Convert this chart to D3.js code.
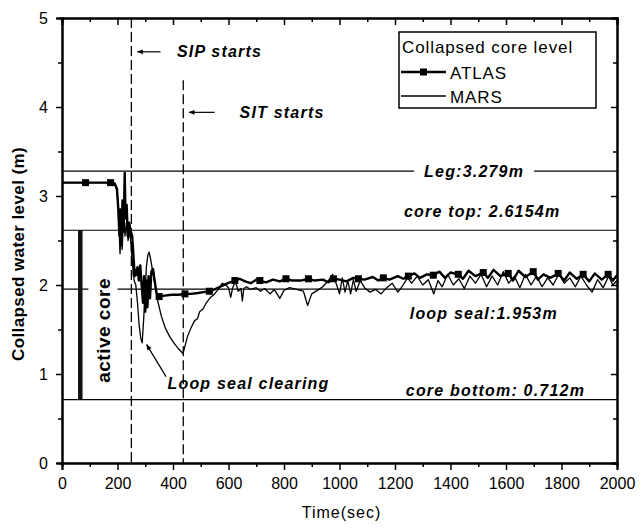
<!DOCTYPE html>
<html>
<head>
<meta charset="utf-8">
<script src="https://cdn.jsdelivr.net/npm/d3@7"></script>
<style>
  body { margin: 0; background: #fff; }
  text { font-family: "Liberation Sans", Arial, sans-serif; }
</style>
</head>
<body>
<svg id="chart" width="643" height="529"></svg>
<script>
// collapsed core level, ATLAS test vs MARS calc
const atlas = [[0,3.15],[40,3.15],[85,3.15],[130,3.15],[175,3.15],[190,3.14],[198,3.08],[203,2.85],[207,2.55],[210,2.85],[214,2.45],[218,2.95],[222,2.6],[226,3.26],[229,2.75],[233,2.9],[237,2.55],[242,2.7],[248,2.6],[253,2.55],[258,2.3],[262,2.1],[267,2.14],[272,2.2],[277,2.05],[282,2.22],[287,2.0],[292,1.8],[296,2.1],[300,1.7],[304,2.05],[308,1.75],[312,2.1],[317,1.85],[322,2.15],[328,2.18],[334,2.05],[340,1.92],[345,1.88],[350,1.87],[370,1.88],[395,1.89],[420,1.89],[443,1.9],[465,1.9],[490,1.91],[510,1.92],[531,1.93],[550,1.95],[570,1.98],[590,2.01],[605,2.03],[623,2.05],[640,2.07],[660,2.04],[680,2.02],[700,2.06],[713,2.05],[735,2.03],[760,2.06],[785,2.04],[807,2.07],[830,2.05],[860,2.05],[888,2.07],[910,2.05],[940,2.06],[960,2.03],[978,2.07],[1000,2.06],[1025,2.04],[1050,2.08],[1068,2.07],[1090,2.06],[1120,2.09],[1140,2.05],[1158,2.08],[1180,2.06],[1210,2.1],[1230,2.07],[1248,2.1],[1270,2.13],[1290,2.08],[1315,2.12],[1338,2.11],[1360,2.15],[1380,2.08],[1400,2.14],[1428,2.12],[1445,2.07],[1465,2.16],[1490,2.1],[1518,2.14],[1535,2.08],[1555,2.17],[1580,2.1],[1608,2.13],[1625,2.05],[1645,2.16],[1670,2.09],[1698,2.15],[1715,2.06],[1735,2.12],[1760,2.08],[1788,2.13],[1810,2.05],[1830,2.14],[1855,2.07],[1878,2.12],[1900,2.04],[1920,2.13],[1945,2.06],[1968,2.12],[1985,2.05],[2000,2.11]];
const atlasMarkTimes = [85,175,267,350,443,531,623,713,807,888,978,1068,1158,1248,1338,1428,1518,1608,1698,1788,1878,1968];
const mars = [[0,3.15],[100,3.15],[185,3.15],[195,3.1],[200,3.0],[205,2.7],[209,2.35],[213,2.6],[217,2.4],[222,2.8],[227,2.55],[232,2.7],[238,2.5],[245,2.6],[250,2.4],[255,2.2],[260,2.05],[266,2.0],[272,1.8],[278,1.55],[284,1.4],[289,1.35],[294,1.6],[299,1.9],[304,2.2],[309,2.33],[314,2.37],[320,2.28],[327,2.15],[335,2.0],[345,1.82],[358,1.65],[372,1.52],[388,1.42],[403,1.35],[418,1.29],[430,1.25],[436,1.23],[442,1.3],[452,1.42],[465,1.52],[478,1.6],[488,1.62],[496,1.7],[508,1.73],[520,1.8],[535,1.86],[550,1.9],[565,1.96],[578,2.02],[590,2.0],[600,1.97],[608,1.86],[615,1.97],[625,2.04],[635,1.93],[645,1.96],[650,1.82],[655,1.96],[665,1.98],[680,1.95],[700,1.97],[715,1.93],[730,1.96],[750,1.9],[765,1.95],[785,1.85],[800,1.94],[820,1.97],[845,1.95],[870,1.93],[885,1.77],[900,1.9],[920,1.94],[940,1.98],[960,2.05],[975,2.12],[990,2.0],[1000,1.9],[1010,2.08],[1020,1.92],[1030,2.05],[1040,1.9],[1050,2.06],[1060,1.93],[1075,2.05],[1090,1.97],[1110,1.92],[1130,1.95],[1150,1.9],[1170,1.97],[1190,2.02],[1210,1.92],[1225,1.98],[1245,2.08],[1260,2.02],[1280,2.1],[1300,2.0],[1320,2.06],[1340,1.9],[1355,2.05],[1370,1.98],[1390,2.12],[1410,2.0],[1430,2.07],[1450,1.96],[1470,2.1],[1490,2.02],[1510,2.12],[1530,1.98],[1550,2.1],[1570,2.0],[1590,2.15],[1610,2.02],[1630,2.1],[1650,1.97],[1670,2.12],[1690,2.0],[1710,2.1],[1730,1.98],[1750,2.08],[1770,2.0],[1790,2.12],[1810,2.02],[1830,2.08],[1850,1.98],[1870,2.1],[1890,2.0],[1910,1.92],[1930,2.06],[1950,1.97],[1970,2.1],[1985,2.0],[2000,2.05]];

// reference elevations
const levelNames = ['Leg:3.279m', 'core top: 2.6154m', 'loop seal:1.953m', 'core bottom: 0.712m'];
const levelValues = [3.279, 2.6154, 1.953, 0.712];
const eventNames = ['SIP starts', 'SIT starts'];
const eventTimes = [250, 437];

const xTicks = [0,200,400,600,800,1000,1200,1400,1600,1800,2000];
const yTicks = [0,1,2,3,4,5];

const svg = d3.select('#chart');
const m = { left: 62, right: 617, top: 18, bottom: 463 };
const x = d3.scaleLinear().domain([0, 2000]).range([m.left, m.right]);
const y = d3.scaleLinear().domain([0, 5]).range([m.bottom, m.top]);

svg.append('clipPath').attr('id', 'clip')
  .append('rect').attr('x', m.left).attr('y', m.top)
  .attr('width', m.right - m.left).attr('height', m.bottom - m.top);

// horizontal reference lines
const levels = svg.append('g');
levelValues.forEach(v => {
  levels.append('line')
    .attr('x1', m.left).attr('x2', m.right)
    .attr('y1', y(v)).attr('y2', y(v))
    .attr('stroke', '#000').attr('stroke-width', 1.2);
});

// event dashed lines
svg.append('line').attr('x1', x(eventTimes[0])).attr('x2', x(eventTimes[0]))
  .attr('y1', y(5)).attr('y2', y(0))
  .attr('stroke', '#000').attr('stroke-width', 1.3).attr('stroke-dasharray', '10,4');
svg.append('line').attr('x1', x(eventTimes[1])).attr('x2', x(eventTimes[1]))
  .attr('y1', y(4.3)).attr('y2', y(0))
  .attr('stroke', '#000').attr('stroke-width', 1.3).attr('stroke-dasharray', '10,4');

// active core bar
svg.append('rect')
  .attr('x', x(65) - 2).attr('width', 4.5)
  .attr('y', y(levelValues[1])).attr('height', y(levelValues[3]) - y(levelValues[1]))
  .attr('fill', '#111');

// labels with white backing where the reference line is broken
const boldItalic = sel => sel.attr('font-size', 16).attr('font-weight', 'bold')
  .attr('font-style', 'italic').attr('letter-spacing', 1.2).attr('fill', '#000');

const legLabel = svg.append('text').attr('x', x(1485)).attr('y', y(levelValues[0]) + 6)
  .attr('text-anchor', 'middle').text(levelNames[0]).call(boldItalic);
const bb = legLabel.node().getBBox();
svg.insert('rect', 'text').attr('x', bb.x - 10).attr('y', bb.y).attr('width', bb.width + 20)
  .attr('height', bb.height).attr('fill', '#fff');

svg.append('text').attr('x', x(1514)).attr('y', y(levelValues[1]) - 13)
  .attr('text-anchor', 'middle').text(levelNames[1]).call(boldItalic);
svg.append('text').attr('x', x(1787)).attr('y', y(levelValues[2]) + 30)
  .attr('text-anchor', 'end').text(levelNames[2]).call(boldItalic);
svg.append('text').attr('x', x(1885)).attr('y', y(levelValues[3]) - 4)
  .attr('text-anchor', 'end').text(levelNames[3]).call(boldItalic);

// active core text
svg.append('rect').attr('x', x(95)).attr('y', y(1.953) - 2).attr('width', x(200) - x(95)).attr('height', 4).attr('fill', '#fff');
svg.append('text')
  .attr('transform', `translate(${x(173)},${y(1.49)}) rotate(-90)`)
  .attr('text-anchor', 'middle')
  .attr('font-size', 19).attr('font-weight', 'bold').attr('letter-spacing', 0.5)
  .text('active core');

// annotations with arrows
svg.append('defs').append('marker')
  .attr('id', 'arr').attr('viewBox', '0 0 10 10').attr('refX', 9).attr('refY', 5)
  .attr('markerWidth', 7).attr('markerHeight', 5).attr('orient', 'auto')
  .append('path').attr('d', 'M0,1 L10,5 L0,9 Z').attr('fill', '#000');

const notes = [
  { text: eventNames[0], tx: 414, ty: 4.56, from: [355, 4.62], to: [272, 4.62] },
  { text: eventNames[1], tx: 640, ty: 3.88, from: [550, 3.94], to: [458, 3.94] },
  { text: 'Loop seal clearing', tx: 380, ty: 0.83, from: [375, 0.97], to: [305, 1.33] }
];
notes.forEach(n => {
  svg.append('line')
    .attr('x1', x(n.from[0])).attr('y1', y(n.from[1]))
    .attr('x2', x(n.to[0])).attr('y2', y(n.to[1]))
    .attr('stroke', '#000').attr('stroke-width', 1.2).attr('marker-end', 'url(#arr)');
  svg.append('text').attr('x', x(n.tx)).attr('y', y(n.ty)).text(n.text).call(boldItalic);
});

// data lines
const line = d3.line().x(d => x(d[0])).y(d => y(d[1]));
const plot = svg.append('g').attr('clip-path', 'url(#clip)');
plot.append('path').datum(mars).attr('d', line)
  .attr('fill', 'none').attr('stroke', '#000').attr('stroke-width', 1.3).attr('stroke-linejoin', 'round');
plot.append('path').datum(atlas).attr('d', line)
  .attr('fill', 'none').attr('stroke', '#000').attr('stroke-width', 2.4).attr('stroke-linejoin', 'round');
plot.selectAll('rect.mk')
  .data(atlas.filter(d => atlasMarkTimes.includes(d[0])))
  .join('rect').attr('class', 'mk')
  .attr('x', d => x(d[0]) - 3.5).attr('y', d => y(d[1]) - 3.5)
  .attr('width', 7).attr('height', 7).attr('fill', '#000');

// axes
const styleAxis = g => {
  g.select('.domain').attr('stroke-width', 2);
  g.selectAll('.tick line').attr('stroke-width', 1.5);
  g.selectAll('text').attr('font-size', 16).attr('fill', '#000');
};
const minorX = d3.range(100, 2000, 200);
const minorY = d3.range(0.5, 5, 1);

svg.append('g').attr('transform', `translate(0,${m.bottom})`)
  .call(d3.axisBottom(x).tickValues(minorX).tickSize(4).tickFormat(''))
  .call(styleAxis);
svg.append('g').attr('transform', `translate(0,${m.bottom})`)
  .call(d3.axisBottom(x).tickValues(xTicks).tickSize(7).tickPadding(8).tickFormat(d3.format('d')))
  .call(styleAxis);
svg.append('g').attr('transform', `translate(0,${m.top})`)
  .call(d3.axisBottom(x).tickValues(minorX).tickSize(4).tickFormat(''))
  .call(styleAxis);
svg.append('g').attr('transform', `translate(0,${m.top})`)
  .call(d3.axisBottom(x).tickValues(xTicks).tickSize(7).tickFormat(''))
  .call(styleAxis);

svg.append('g').attr('transform', `translate(${m.left},0)`)
  .call(d3.axisLeft(y).tickValues(minorY).tickSize(4).tickFormat(''))
  .call(styleAxis);
svg.append('g').attr('transform', `translate(${m.left},0)`)
  .call(d3.axisLeft(y).tickValues(yTicks).tickSize(6).tickPadding(8).tickFormat(d3.format('d')))
  .call(styleAxis);
svg.append('g').attr('transform', `translate(${m.right},0)`)
  .call(d3.axisLeft(y).tickValues(minorY).tickSize(4).tickFormat(''))
  .call(styleAxis);
svg.append('g').attr('transform', `translate(${m.right},0)`)
  .call(d3.axisLeft(y).tickValues(yTicks).tickSize(6).tickFormat(''))
  .call(styleAxis);

// axis titles
svg.append('text').attr('x', (m.left + m.right) / 2 + 2).attr('y', 518)
  .attr('text-anchor', 'middle').attr('font-size', 16).attr('letter-spacing', 1)
  .text('Time(sec)');
svg.append('text')
  .attr('transform', `translate(24,254) rotate(-90)`)
  .attr('text-anchor', 'middle').attr('font-size', 17).attr('font-weight', 'bold').attr('letter-spacing', 0.4)
  .text('Collapsed water level (m)');

// legend
const lg = svg.append('g');
lg.append('rect').attr('x', 399).attr('y', 32).attr('width', 197).attr('height', 76)
  .attr('fill', '#fff').attr('stroke', '#000').attr('stroke-width', 1.5);
lg.append('text').attr('x', 402).attr('y', 53).attr('font-size', 17).attr('letter-spacing', 0.9)
  .text('Collapsed core level');
lg.append('line').attr('x1', 401).attr('x2', 446).attr('y1', 72).attr('y2', 72)
  .attr('stroke', '#000').attr('stroke-width', 2.4);
lg.append('rect').attr('x', 420).attr('y', 68.5).attr('width', 7).attr('height', 7).attr('fill', '#000');
lg.append('text').attr('x', 450).attr('y', 79).attr('font-size', 17).attr('letter-spacing', 0.9).text('ATLAS');
lg.append('line').attr('x1', 401).attr('x2', 446).attr('y1', 96).attr('y2', 96)
  .attr('stroke', '#000').attr('stroke-width', 1.3);
lg.append('text').attr('x', 450).attr('y', 103).attr('font-size', 17).attr('letter-spacing', 0.9).text('MARS');
</script>
</body>
</html>
